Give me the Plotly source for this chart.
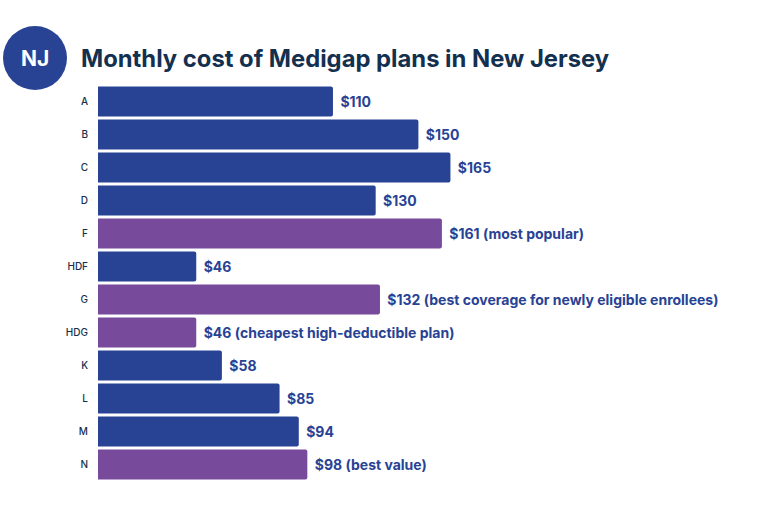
import plotly.graph_objects as go

plans = ['A', 'B', 'C', 'D', 'F', 'HDF', 'G', 'HDG', 'K', 'L', 'M', 'N']
costs = [110, 150, 165, 130, 161, 46, 132, 46, 58, 85, 94, 98]
notes = ['', '', '', '', ' (most popular)', '', ' (best coverage for newly eligible enrollees)',
         ' (cheapest high-deductible plan)', '', '', '', ' (best value)']
highlighted = ['F', 'G', 'HDG', 'N']

BLUE = '#284294'
PURPLE = '#774a9b'
NAVY = '#14304f'
FONT = 'Inter, Lato, sans-serif'

W, H = 768, 507
ML, MT, MB = 98, 85, 26
plot_w = W - ML
plot_h = H - MT - MB

colors = [PURPLE if p in highlighted else BLUE for p in plans]
labels = ['\u200a $%d%s' % (c, n) for c, n in zip(costs, notes)]

fig = go.Figure(go.Bar(
    x=costs,
    y=plans,
    orientation='h',
    marker=dict(color=colors, line=dict(width=0)),
    text=labels,
    textposition='outside',
    textfont=dict(family=FONT, size=14, color=BLUE, weight=700),
    cliponaxis=False,
    hoverinfo='skip',
))

fig.update_layout(
    width=W, height=H,
    margin=dict(l=ML, r=0, t=MT, b=MB),
    paper_bgcolor='white',
    plot_bgcolor='white',
    showlegend=False,
    bargap=0.09,
    barcornerradius=2,
    title=dict(
        text='Monthly cost of Medigap plans in New Jersey',
        font=dict(family=FONT, size=23.8, color=NAVY, weight=700),
        x=81 / W, xanchor='left', xref='container',
        y=1 - 59 / H, yanchor='middle', yref='container',
    ),
)
fig.update_xaxes(range=[0, plot_w / 2.136], visible=False)
fig.update_yaxes(
    autorange='reversed',
    showgrid=False,
    showline=False,
    ticks='',
    ticklabelstandoff=9,
    tickfont=dict(family=FONT, size=10, color=NAVY, weight=500),
)

# NJ badge, top left
fig.add_shape(
    type='circle', xref='paper', yref='paper',
    xsizemode='pixel', ysizemode='pixel',
    xanchor=(35 - ML) / plot_w, yanchor=1 + (MT - 58) / plot_h,
    x0=-32, x1=32, y0=-32, y1=32,
    fillcolor=BLUE, line=dict(width=0),
)
fig.add_annotation(
    text='NJ', xref='paper', yref='paper',
    x=(35 - ML) / plot_w, y=1 + (MT - 58) / plot_h,
    xanchor='center', yanchor='middle',
    showarrow=False,
    font=dict(family=FONT, size=21, color='white', weight=700),
)

# the page's default body margin would push the chart 8px down and right
fig.write_html('out.html', config={'displayModeBar': False},
               post_script="document.body.style.margin = '0';")
